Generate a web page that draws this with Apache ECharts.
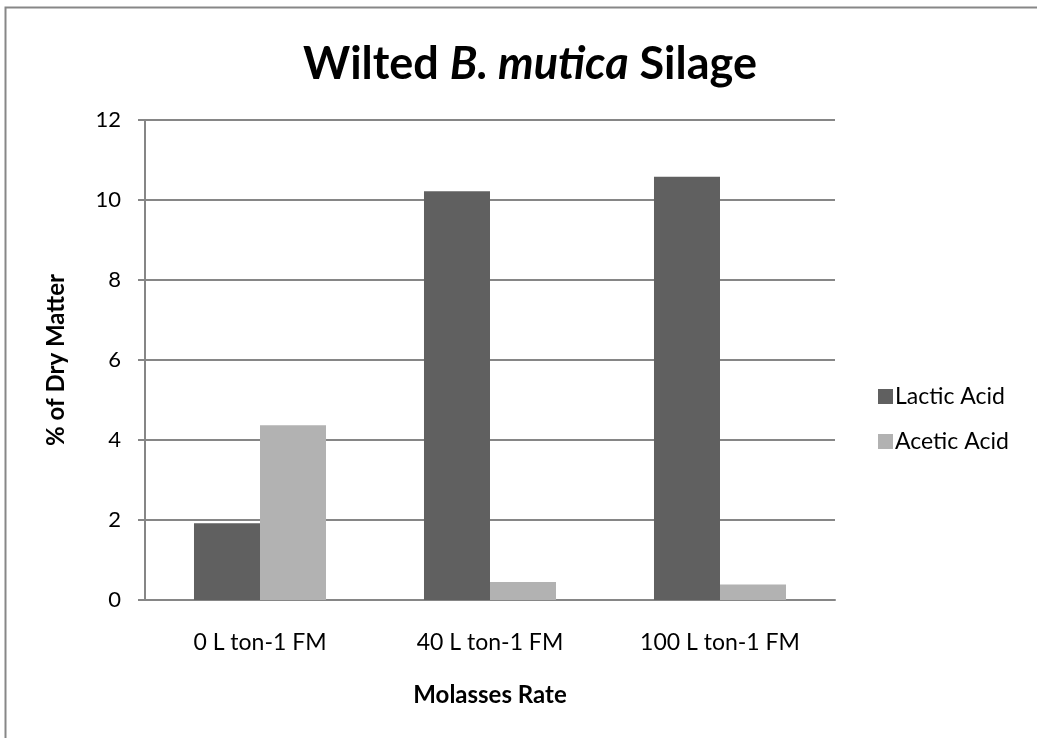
<!DOCTYPE html>
<html><head><meta charset="utf-8">
<script src="https://cdn.jsdelivr.net/npm/echarts@6/dist/echarts.min.js"></script>
<style>html,body{margin:0;padding:0;background:#fff}#c{width:1037px;height:738px}</style>
</head><body><div id="c"></div>
<script>
const categories = ['0 L ton-1 FM', '40 L ton-1 FM', '100 L ton-1 FM'];
const lacticAcid = [1.92, 10.22, 10.58];
const aceticAcid = [4.37, 0.45, 0.39];
const yTicks = [0, 2, 4, 6, 8, 10, 12];

const FONT = 'Lato, "Open Sans", sans-serif';
const chart = echarts.init(document.getElementById('c'));
chart.setOption({
  animation: false,
  backgroundColor: '#fff',
  graphic: [{
    type: 'rect', shape: {x: 5.5, y: 7.5, width: 1100, height: 800},
    style: {fill: 'none', stroke: '#878787', lineWidth: 2}, silent: true
  }],
  title: {
    text: '{b|Wilted }{i|B. mutica}{b| Silage}',
    left: 525, top: 37, textAlign: 'center',
    textStyle: {
      rich: {
        b: {fontFamily: FONT, fontWeight: 'bold', fontSize: 45, color: '#000'},
        i: {fontFamily: FONT, fontWeight: 'bold', fontStyle: 'italic', fontSize: 45, color: '#000'}
      }
    }
  },
  legend: {
    orient: 'vertical', left: 878, top: 385, itemGap: 22, padding: 0,
    itemWidth: 15, itemHeight: 15, icon: 'rect',
    textStyle: {fontFamily: FONT, fontSize: 23, color: '#000', padding: [0, 0, 0, -3]},
    data: ['Lactic Acid', 'Acetic Acid']
  },
  grid: {left: 145, right: 202, top: 120, bottom: 138, containLabel: false},
  xAxis: {
    type: 'category', data: categories,
    axisLine: {lineStyle: {color: '#868686', width: 2}},
    axisTick: {show: false},
    axisLabel: {fontFamily: FONT, fontSize: 23, color: '#000', margin: 31},
    name: 'Molasses Rate', nameLocation: 'middle', nameGap: 83,
    nameTextStyle: {fontFamily: FONT, fontSize: 24, fontWeight: 'bold', color: '#000'}
  },
  yAxis: {
    type: 'value', min: 0, max: 12, interval: 2,
    axisLine: {show: true, lineStyle: {color: '#868686', width: 2}},
    axisTick: {show: true, length: 7, lineStyle: {color: '#868686', width: 2}},
    splitLine: {lineStyle: {color: '#868686', width: 2}},
    axisLabel: {fontFamily: FONT, fontSize: 22, color: '#000', margin: 24,
      formatter: v => yTicks.includes(v) ? String(v) : ''},
    name: '% of Dry Matter', nameLocation: 'middle', nameGap: 77,
    nameTextStyle: {fontFamily: FONT, fontSize: 24, fontWeight: 'bold', color: '#000'}
  },
  series: [
    {name: 'Lactic Acid', type: 'bar', data: lacticAcid, barGap: '0%', barCategoryGap: '42.6%',
     itemStyle: {color: '#606060'}},
    {name: 'Acetic Acid', type: 'bar', data: aceticAcid,
     itemStyle: {color: '#b2b2b2'}}
  ]
});
</script></body></html>
